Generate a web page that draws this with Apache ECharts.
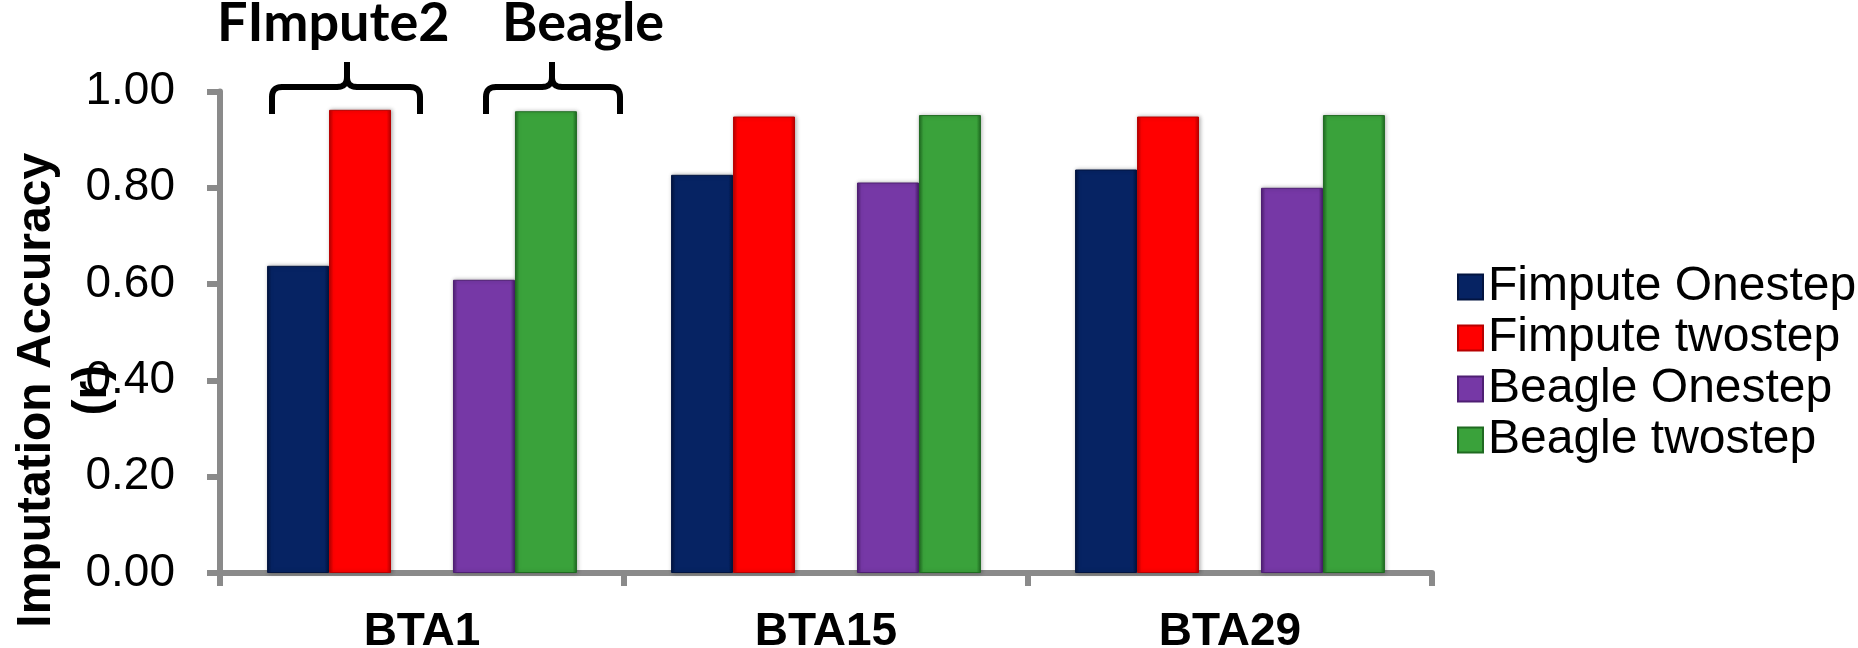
<!DOCTYPE html>
<html>
<head>
<meta charset="utf-8">
<script src="https://cdn.jsdelivr.net/npm/echarts@6/dist/echarts.min.js"></script>
<style>
  html, body { margin: 0; padding: 0; background: #ffffff; }
  #chart { width: 1858px; height: 648px; }
</style>
</head>
<body>
<div id="chart"></div>
<script>
// Chromosomes compared
const categories = ['BTA1', 'BTA15', 'BTA29'];

// Imputation accuracy (r) per method and strategy
const fimputeOnestep = [0.638, 0.827, 0.838];
const fimputeTwostep = [0.962, 0.948, 0.948];
const beagleOnestep  = [0.609, 0.811, 0.800];
const beagleTwostep  = [0.959, 0.951, 0.951];

// Empty slot separating the FImpute pair from the Beagle pair in each cluster
const spacer = ['-', '-', '-'];

const seriesNames = ['Fimpute Onestep', 'Fimpute twostep', 'Beagle Onestep', 'Beagle twostep'];
const seriesColors = ['#062363', '#ff0000', '#7638a6', '#3aa23b'];
const edgeColors   = ['#021440', '#b80000', '#4e1f73', '#1f6a21'];

// Group headings drawn above the first cluster
const groupLabels = ['FImpute2', 'Beagle'];

const chart = echarts.init(document.getElementById('chart'), null, { renderer: 'canvas' });

function barStyle(i) {
  return {
    color: new echarts.graphic.LinearGradient(0, 0, 1, 0, [
      { offset: 0, color: edgeColors[i] },
      { offset: 0.07, color: seriesColors[i] },
      { offset: 0.93, color: seriesColors[i] },
      { offset: 1, color: edgeColors[i] }
    ]),
    borderColor: edgeColors[i],
    borderWidth: 1,
    shadowBlur: 4,
    shadowColor: 'rgba(0,0,0,0.3)',
    shadowOffsetX: 1,
    shadowOffsetY: 0
  };
}

function barSeries(name, data, i) {
  return {
    name: name,
    type: 'bar',
    data: data,
    barGap: '0%',
    barCategoryGap: '23.3%',
    itemStyle: barStyle(i),
    emphasis: { disabled: true }
  };
}

// Points of a quadratic curve from p0 to p2 with control point c
function quad(p0, c, p2, steps) {
  const pts = [];
  for (let k = 0; k <= steps; k++) {
    const t = k / steps, u = 1 - t;
    pts.push([u * u * p0[0] + 2 * u * t * c[0] + t * t * p2[0],
              u * u * p0[1] + 2 * u * t * c[1] + t * t * p2[1]]);
  }
  return pts;
}

// One half of a curly brace: outer end down at yEnd, bar at yBar, stem up to yTip
function braceHalf(xOuter, xTip, yBar, yEnd, yTip, r) {
  const dir = xTip > xOuter ? 1 : -1;
  return [].concat(
    [[xOuter, yEnd]],
    quad([xOuter, yBar + r], [xOuter, yBar], [xOuter + dir * r, yBar], 8),
    quad([xTip - dir * r, yBar], [xTip, yBar], [xTip, yBar - r], 8),
    [[xTip, yTip]]
  );
}

function brace(xLeft, xRight, xTip) {
  const style = { stroke: '#000000', lineWidth: 6, fill: null, lineJoin: 'round' };
  return [
    { type: 'polyline', shape: { points: braceHalf(xLeft, xTip, 87, 114, 62, 10) }, style: style, silent: true },
    { type: 'polyline', shape: { points: braceHalf(xRight, xTip, 87, 114, 62, 10) }, style: style, silent: true }
  ];
}

const axisGray = '#8a8a8a';

const option = {
  animation: false,
  backgroundColor: '#ffffff',
  grid: { left: 220, right: 426, top: 91.5, bottom: 75, containLabel: false, outerBoundsMode: 'none' },
  legend: {
    data: seriesNames,
    orient: 'vertical',
    left: 1452,
    top: 258,
    itemWidth: 25,
    itemHeight: 25,
    itemGap: 3,
    icon: 'rect',
    selectedMode: false,
    textStyle: {
      fontFamily: '"Liberation Sans", Arial, sans-serif',
      fontSize: 48,
      color: '#000000',
      padding: [0, 0, 0, 0]
    }
  },
  xAxis: {
    type: 'category',
    data: categories,
    axisLine: { show: true, lineStyle: { color: axisGray, width: 6 } },
    axisTick: { show: true, length: 13, lineStyle: { color: axisGray, width: 6 } },
    axisLabel: {
      margin: 36,
      fontFamily: '"Liberation Sans", Arial, sans-serif',
      fontWeight: 'bold',
      fontSize: 46,
      color: '#000000'
    },
    splitLine: { show: false }
  },
  yAxis: {
    type: 'value',
    min: 0,
    max: 1,
    interval: 0.2,
    name: 'Imputation Accuracy\n(r)',
    nameLocation: 'middle',
    nameRotate: 90,
    nameGap: 99,
    nameMoveOverlap: false,
    nameTextStyle: {
      fontFamily: '"Liberation Sans", Arial, sans-serif',
      fontWeight: 'bold',
      fontSize: 48,
      lineHeight: 56,
      color: '#000000',
      padding: [0, 116, 0, 0]
    },
    axisLine: { show: true, lineStyle: { color: axisGray, width: 6 } },
    axisTick: { show: true, length: 13, lineStyle: { color: axisGray, width: 6 } },
    axisLabel: {
      margin: 45,
      fontFamily: '"Liberation Sans", Arial, sans-serif',
      fontSize: 46,
      color: '#000000',
      formatter: v => v.toFixed(2)
    },
    splitLine: { show: false }
  },
  series: [
    barSeries(seriesNames[0], fimputeOnestep, 0),
    barSeries(seriesNames[1], fimputeTwostep, 1),
    { name: 'gap', type: 'bar', data: spacer, barGap: '0%', barCategoryGap: '23.3%' },
    barSeries(seriesNames[2], beagleOnestep, 2),
    barSeries(seriesNames[3], beagleTwostep, 3)
  ],
  graphic: [
    {
      type: 'text', left: 217, top: -3,
      style: { text: groupLabels[0], fontFamily: 'Lato, "Liberation Sans", sans-serif', fontWeight: 'bold', fontSize: 54, fill: '#000000' }
    },
    {
      type: 'text', left: 502, top: -3,
      style: { text: groupLabels[1], fontFamily: 'Lato, "Liberation Sans", sans-serif', fontWeight: 'bold', fontSize: 54, fill: '#000000' }
    }
  ].concat(brace(272, 420, 347), brace(486, 620, 552))
};

chart.setOption(option);
</script>
</body>
</html>
